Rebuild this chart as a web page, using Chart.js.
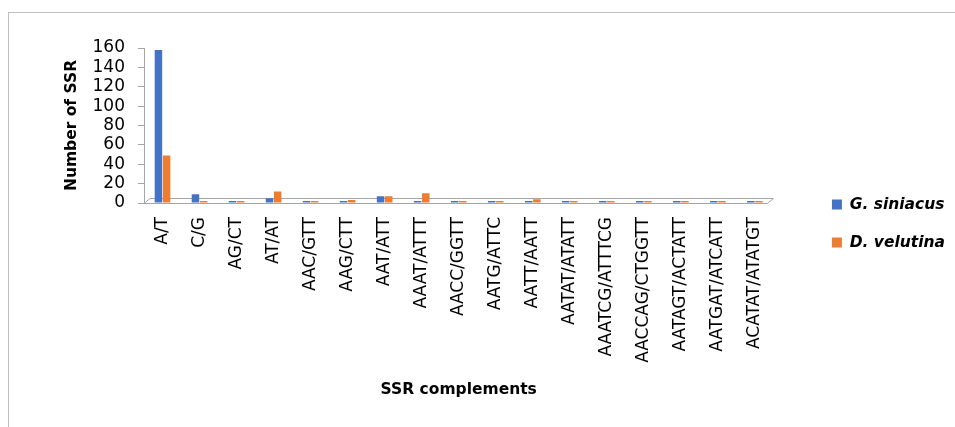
<!DOCTYPE html>
<html>
<head>
<meta charset="utf-8">
<title>SSR complements</title>
<script src="https://cdn.jsdelivr.net/npm/chart.js@4/dist/chart.umd.min.js"></script>
<style>
    html, body { margin: 0; padding: 0; background: #fff; }
    #wrap { position: relative; width: 955px; height: 427px; overflow: hidden; }
    #frame { position: absolute; left: 8px; top: 12px; width: 960px; height: 430px;
             border-left: 1px solid #bfbfbf; border-top: 1px solid #bfbfbf; }
    #chart { position: absolute; left: 0; top: 0; }
</style>
</head>
<body>
<div id="wrap">
    <div id="frame"></div>
    <canvas id="chart" width="955" height="427"></canvas>
</div>
<script>
/* SSR motif counts per complement pair, two species */
const categories = ['A/T', 'C/G', 'AG/CT', 'AT/AT', 'AAC/GTT', 'AAG/CTT', 'AAT/ATT', 'AAAT/ATTT',
    'AACC/GGTT', 'AATG/ATTC', 'AATT/AATT', 'AATAT/ATATT', 'AAATCG/ATTTCG', 'AACCAG/CTGGTT',
    'AATAGT/ACTATT', 'AATGAT/ATCATT', 'ACATAT/ATATGT'];
const gSiniacus = [158, 9, 0, 5, 2, 1, 7, 0, 0, 2, 1, 0, 1, 0, 0, 0, 1];
const dVelutina = [49, 1, 2, 12, 1, 3, 7, 10, 1, 1, 4, 1, 1, 1, 1, 1, 1];
const yTicks = [0, 20, 40, 60, 80, 100, 120, 140, 160];

const BLUE = '#4472C4';
const ORANGE = '#ED7D31';
const AXIS = '#a6a6a6';
const FONT = 'DejaVu Sans';

// flat 3D-style floor under the bars
const floorPlugin = {
    id: 'floor',
    beforeDatasetsDraw(chart) {
        const { ctx, chartArea: a } = chart;
        ctx.save();
        ctx.strokeStyle = AXIS;
        ctx.lineWidth = 1;
        ctx.beginPath();
        ctx.moveTo(a.left, a.bottom + 0.5);
        ctx.lineTo(a.right - 6, a.bottom + 0.5);
        ctx.lineTo(a.right, a.bottom - 4.5);
        ctx.lineTo(a.left + 6, a.bottom - 4.5);
        ctx.lineTo(a.left, a.bottom + 0.5);
        ctx.stroke();
        ctx.restore();
    }
};

// push the legend away from the plot, leaving the gap on its left
const legendShift = {
    id: 'legendShift',
    afterLayout(chart) {
        const lg = chart.legend;
        if (!lg) return;
        lg.left += 36;
        lg.right += 36;
    }
};

new Chart(document.getElementById('chart'), {
    type: 'bar',
    data: {
        labels: categories,
        datasets: [
            { label: 'G. siniacus', data: gSiniacus, backgroundColor: BLUE, borderWidth: 0 },
            { label: 'D. velutina', data: dVelutina, backgroundColor: ORANGE, borderWidth: 0 }
        ]
    },
    options: {
        responsive: false,
        animation: false,
        devicePixelRatio: 1,
        layout: { padding: { left: 59, top: 48, right: 36, bottom: 28 } },
        datasets: { bar: { barPercentage: 0.92, categoryPercentage: 0.44, minBarLength: 2 } },
        scales: {
            x: {
                grid: { display: false, drawTicks: false },
                border: { display: false },
                ticks: {
                    color: '#000', font: { family: FONT, size: 17 },
                    minRotation: 90, maxRotation: 90, autoSkip: false, padding: 14
                },
                title: {
                    display: true, text: 'SSR complements', color: '#000',
                    font: { family: FONT, size: 15.5, weight: 'bold' },
                    padding: { top: 0, bottom: 0 }
                },
                afterFit(scale) { scale.height = 196; }
            },
            y: {
                min: 0, max: 160,
                afterBuildTicks(scale) { scale.ticks = yTicks.map(v => ({ value: v })); },
                grid: { drawOnChartArea: false, drawTicks: true, tickLength: 6, color: AXIS },
                border: { display: true, color: AXIS },
                ticks: { color: '#000', font: { family: FONT, size: 17 }, padding: 13, autoSkip: false },
                title: {
                    display: true, text: 'Number of SSR', color: '#000',
                    font: { family: FONT, size: 15.5, weight: 'bold' },
                    padding: { top: 4, bottom: 0 }
                },
                afterFit(scale) { scale.width = 85; }
            }
        },
        plugins: {
            legend: {
                position: 'right',
                align: 'center',
                labels: {
                    boxWidth: 10, boxHeight: 10, padding: 22.5, color: '#000',
                    font: { family: FONT, size: 15.5, weight: 'bold', style: 'italic' }
                }
            },
            tooltip: { enabled: false }
        }
    },
    plugins: [floorPlugin, legendShift]
});
</script>
</body>
</html>
